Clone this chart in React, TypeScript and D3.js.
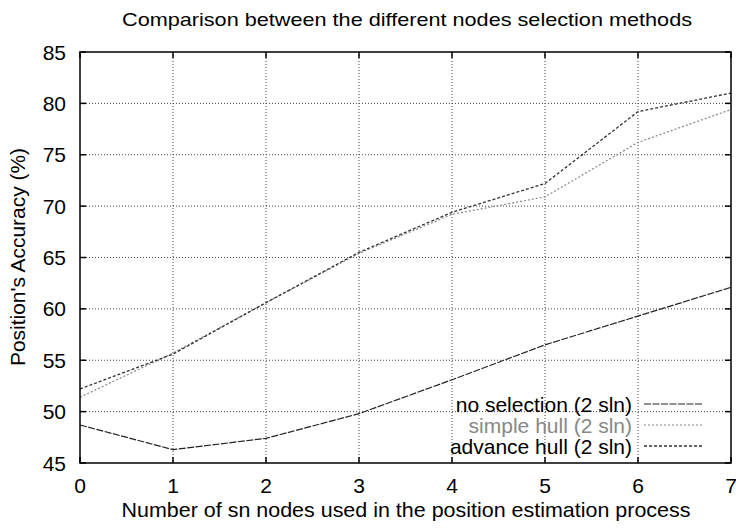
import React from "react";
import * as d3 from "d3";

const xValues = [0, 1, 2, 3, 4, 5, 6, 7];
const noSelection = [48.7, 46.3, 47.4, 49.8, 53.1, 56.5, 59.3, 62.1];
const simpleHull = [51.4, 55.7, 60.6, 65.4, 69.2, 70.9, 76.2, 79.4];
const advanceHull = [52.2, 55.6, 60.6, 65.5, 69.4, 72.2, 79.2, 81.0];
const xTicks = [0, 1, 2, 3, 4, 5, 6, 7];
const yTicks = [45, 50, 55, 60, 65, 70, 75, 80, 85];
const seriesNames = ["no selection (2 sln)", "simple hull (2 sln)", "advance hull (2 sln)"];

const W = 736, H = 532;
const left = 80, right = 731, top = 52, bottom = 463;
const font = "'Liberation Sans', Arial, sans-serif";

export default function App() {
  const x = d3.scaleLinear().domain([0, 7]).range([left, right]);
  const y = d3.scaleLinear().domain([45, 85]).range([bottom, top]);
  const line = d3.line<number>().x((_, i) => x(xValues[i])).y((d) => y(d));

  const series = [
    { name: seriesNames[0], data: noSelection, color: "#222", dash: "7,1.5", width: 1.2, textColor: "#000" },
    { name: seriesNames[1], data: simpleHull, color: "#888", dash: "2,2", width: 1.2, textColor: "#888" },
    { name: seriesNames[2], data: advanceHull, color: "#333", dash: "3,2", width: 1.3, textColor: "#000" },
  ];

  const tick = 6;
  return (
    <svg width={W} height={H} style={{ position: "absolute", left: 0, top: 0, background: "#fff" }} fontFamily={font}>
      <rect x={0} y={0} width={W} height={H} fill="#fff" />
      {/* grid */}
      {yTicks.slice(1, -1).map((t) => (
        <line key={"gy" + t} x1={left} x2={right} y1={y(t)} y2={y(t)} stroke="#444" strokeWidth={1} strokeDasharray="1,2" />
      ))}
      {xTicks.slice(1, -1).map((t) => (
        <line key={"gx" + t} x1={x(t)} x2={x(t)} y1={top} y2={bottom} stroke="#444" strokeWidth={1} strokeDasharray="1,2" />
      ))}
      {/* ticks */}
      {yTicks.map((t) => (
        <g key={"ty" + t}>
          <line x1={left} x2={left + tick} y1={y(t)} y2={y(t)} stroke="#000" strokeWidth={1.5} />
          <line x1={right} x2={right - tick} y1={y(t)} y2={y(t)} stroke="#000" strokeWidth={1.5} />
          <text x={66} y={y(t)} dy="0.36em" textAnchor="end" fontSize={21}>{t}</text>
        </g>
      ))}
      {xTicks.map((t) => (
        <g key={"tx" + t}>
          <line x1={x(t)} x2={x(t)} y1={bottom} y2={bottom - tick} stroke="#000" strokeWidth={1.5} />
          <line x1={x(t)} x2={x(t)} y1={top} y2={top + tick} stroke="#000" strokeWidth={1.5} />
          <text x={x(t)} y={493} textAnchor="middle" fontSize={21}>{t}</text>
        </g>
      ))}
      {/* series */}
      {series.map((s) => (
        <path key={s.name} d={line(s.data) || ""} fill="none" stroke={s.color} strokeWidth={s.width} strokeDasharray={s.dash} />
      ))}
      {/* frame */}
      <rect x={left} y={top} width={right - left} height={bottom - top} fill="none" stroke="#000" strokeWidth={1.5} />
      {/* legend */}
      {series.map((s, i) => {
        const ly = 404 + i * 21;
        return (
          <g key={"lg" + i}>
            <text x={632} y={ly} dy="0.36em" textAnchor="end" fontSize={21} fill={s.textColor}>{s.name}</text>
            <line x1={644} x2={702} y1={ly} y2={ly} stroke={s.color} strokeWidth={s.width} strokeDasharray={s.dash} />
          </g>
        );
      })}
      {/* titles */}
      <text x={407} y={26} textAnchor="middle" fontSize={19} textLength={570} lengthAdjust="spacingAndGlyphs">Comparison between the different nodes selection methods</text>
      <text x={406} y={517} textAnchor="middle" fontSize={21} textLength={569} lengthAdjust="spacingAndGlyphs">Number of sn nodes used in the position estimation process</text>
      <text transform={`translate(25,257) rotate(-90)`} textAnchor="middle" fontSize={21} textLength={218} lengthAdjust="spacingAndGlyphs">Position's Accuracy (%)</text>
    </svg>
  );
}
